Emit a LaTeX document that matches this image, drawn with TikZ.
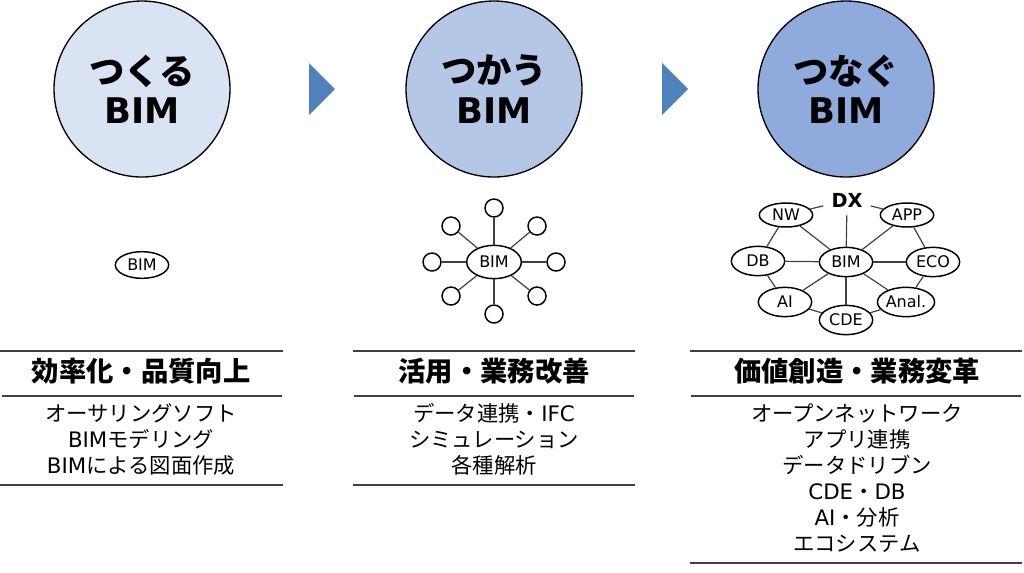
\documentclass[tikz,border=0pt]{standalone}
\usepackage{fontspec}
\setmainfont{DejaVu Sans}
\newfontfamily\jp{Noto Sans CJK JP}
\usetikzlibrary{shapes.geometric}
\definecolor{tsukuru}{HTML}{DAE3F3}
\definecolor{tsukau}{HTML}{B4C7E7}
\definecolor{tsunagu}{HTML}{8FAADC}
\definecolor{stepblue}{HTML}{4F81BD}
\definecolor{rulegray}{HTML}{404040}

\begin{document}
\begin{tikzpicture}[x=0.75pt, y=-0.75pt,
        stage/.style={circle, draw=black, line width=1pt, minimum size=132pt, inner sep=0pt,
            align=center, font=\fontsize{26.5}{29.5}\selectfont\bfseries},
        oval/.style={ellipse, draw=black, line width=1.1pt, minimum width=40pt,
            minimum height=22pt, inner sep=0pt, font=\fontsize{12}{14}\selectfont},
        dot/.style={circle, draw=black, line width=1.1pt, minimum size=13.5pt, inner sep=0pt},
        link/.style={draw=rulegray, line width=0.9pt},
        rule/.style={draw=rulegray, line width=1.4pt},
        heading/.style={font=\fontsize{20.5}{24}\selectfont\bfseries\jp},
        items/.style={align=center, font=\fontsize{16}{19.5}\selectfont\jp}]
            \useasboundingbox (0,0) rectangle (1024,572);
            % stages
            \node[stage, fill=tsukuru] (s1) at (142,89) {{\jp つくる}\\BIM};
            \node[stage, fill=tsukau] (s2) at (494,89) {{\jp つかう}\\BIM};
            \node[stage, fill=tsunagu] (s3) at (846,89) {{\jp つなぐ}\\BIM};
            \fill[stepblue] (309,63) -- (335,89) -- (309,115) -- cycle;
            \fill[stepblue] (662,63) -- (688,89) -- (662,115) -- cycle;
            % first
            \node[oval, minimum height=20pt] (bim1) at (142,265) {BIM};
            % second
            \node[oval, minimum width=41pt, minimum height=25pt] (bim2) at (494,262) {BIM};
            \node[dot] (d1) at (494,208) {};
            \node[dot] (d2) at (537,226) {};
            \node[dot] (d3) at (556,262) {};
            \node[dot] (d4) at (537,296) {};
            \node[dot] (d5) at (494,314) {};
            \node[dot] (d6) at (451,296) {};
            \node[dot] (d7) at (432,262) {};
            \node[dot] (d8) at (451,226) {};
            \draw[link] (bim2) -- (d1);
            \draw[link] (bim2) -- (d2);
            \draw[link] (bim2) -- (d3);
            \draw[link] (bim2) -- (d4);
            \draw[link] (bim2) -- (d5);
            \draw[link] (bim2) -- (d6);
            \draw[link] (bim2) -- (d7);
            \draw[link] (bim2) -- (d8);
            % third
            \node[font=\fontsize{14.5}{16}\selectfont\bfseries, inner sep=6pt] (dx) at (847,200) {DX};
            \node[oval, minimum height=18pt] (nw) at (786,215) {NW};
            \node[oval, minimum height=18pt] (app) at (907,215) {APP};
            \node[oval] (db) at (758,261) {DB};
            \node[oval] (bim3) at (846,262) {BIM};
            \node[oval] (eco) at (933,262) {ECO};
            \node[oval] (ai) at (785,302) {AI};
            \node[oval] (anal) at (906,302) {Anal.};
            \node[oval] (cde) at (846,320) {CDE};
            \draw[link] (bim3) -- (dx);
            \draw[link] (bim3) -- (nw);
            \draw[link] (bim3) -- (app);
            \draw[link] (bim3) -- (db);
            \draw[link] (bim3) -- (eco);
            \draw[link] (bim3) -- (ai);
            \draw[link] (bim3) -- (anal);
            \draw[link] (bim3) -- (cde);
            \draw[link] (dx) -- (nw) -- (db) -- (ai) -- (cde) -- (anal) -- (eco) -- (app) -- (dx);
            % tables
            \draw[rule] (0,351) -- (283,351);
            \draw[rule] (2,396) -- (282,396);
            \draw[rule] (0,485) -- (283,485);
            \draw[rule] (353,351) -- (635,351);
            \draw[rule] (354,396) -- (634,396);
            \draw[rule] (353,485) -- (635,485);
            \draw[rule] (690,351) -- (1022,351);
            \draw[rule] (691,396) -- (1021,396);
            \draw[rule] (690,563) -- (1022,563);
            \node[heading] (h1) at (141,371) {効率化・品質向上};
            \node[heading] (h2) at (494,371) {活用・業務改善};
            \node[heading] (h3) at (857,371) {価値創造・業務変革};
            \node[items] (t1) at (141,439) {オーサリングソフト\\{\rmfamily BIM}モデリング\\{\rmfamily BIM}による図面作成};
            \node[items] (t2) at (494,439) {データ連携・{\rmfamily IFC}\\シミュレーション\\各種解析};
            \node[items] (t3) at (857,478) {オープンネットワーク\\アプリ連携\\データドリブン\\{\rmfamily CDE}・{\rmfamily DB}\\{\rmfamily AI}・分析\\エコシステム};
        \end{tikzpicture}
\end{document}
